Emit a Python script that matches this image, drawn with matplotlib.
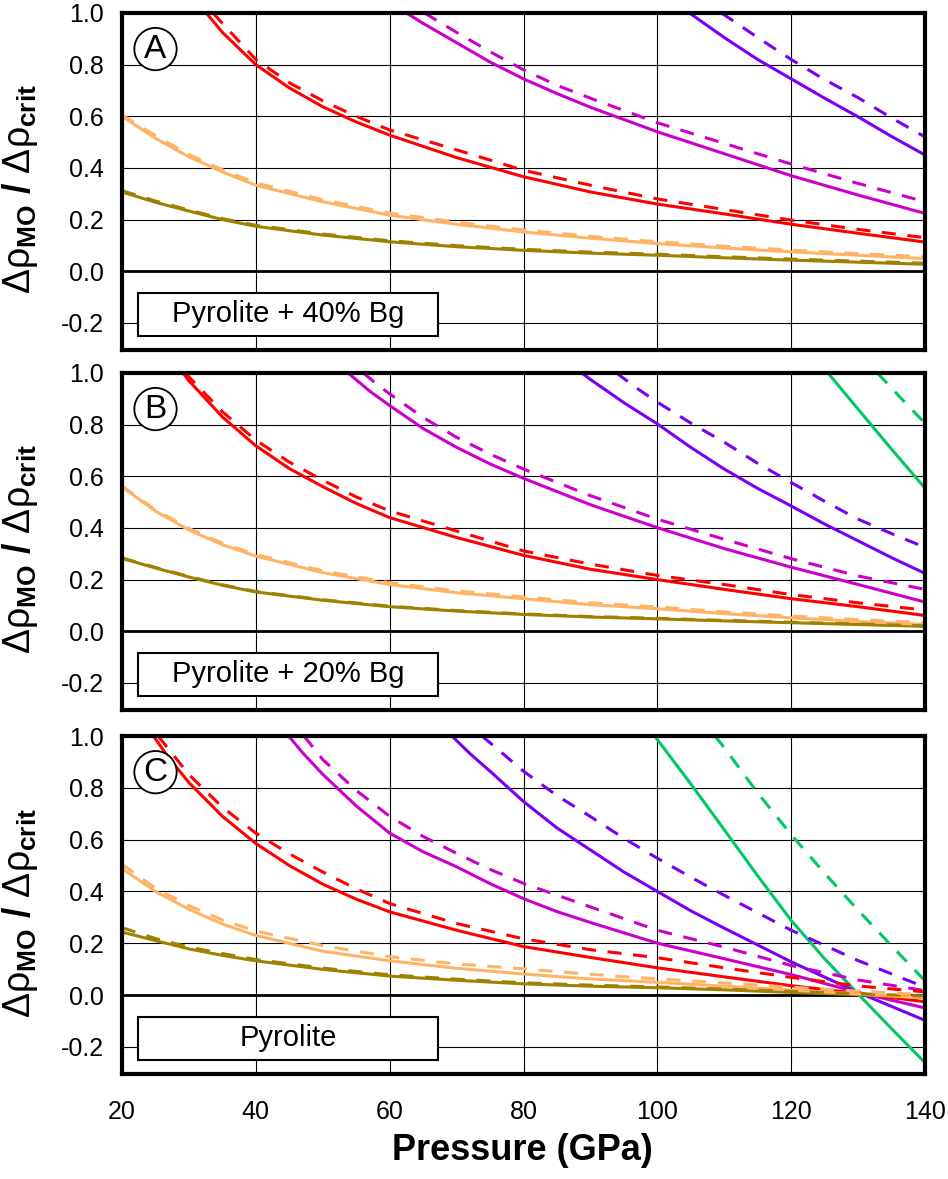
import matplotlib
matplotlib.use("Agg")
import matplotlib.pyplot as plt
from matplotlib.patches import Rectangle

plt.rcParams['font.family'] = ['Liberation Sans', 'DejaVu Sans']
plt.rcParams['mathtext.fontset'] = 'custom'
plt.rcParams['mathtext.rm'] = 'Liberation Sans'
plt.rcParams['mathtext.it'] = 'Liberation Sans'
plt.rcParams['mathtext.bf'] = 'Liberation Sans:bold'
plt.rcParams['axes.unicode_minus'] = False

# ---------------- data ----------------
P_full = [20, 25, 30, 35, 40, 50, 60, 70, 80, 90, 100, 110, 120, 130, 140]

# Panel A : Pyrolite + 40% Bg
A_red_s_P = [32.6, 35, 40, 45, 50, 55, 60, 70, 80, 90, 100, 110, 120, 130, 140]
A_red_s_v = [1.0, 0.925, 0.80, 0.71, 0.637, 0.578, 0.527, 0.44, 0.366, 0.307, 0.26, 0.222, 0.182, 0.147, 0.113]
A_red_d_P = [33.6, 35, 40, 45, 50, 55, 60, 70, 80, 90, 100, 110, 120, 130, 140]
A_red_d_v = [1.0, 0.96, 0.82, 0.73, 0.66, 0.60, 0.547, 0.47, 0.391, 0.333, 0.28, 0.239, 0.198, 0.162, 0.13]
A_mag_s_P = [62.5, 65, 70, 75, 80, 85, 90, 100, 110, 120, 130, 140]
A_mag_s_v = [1.0, 0.96, 0.885, 0.81, 0.745, 0.688, 0.635, 0.54, 0.455, 0.37, 0.295, 0.224]
A_mag_d_P = [65.2, 70, 75, 80, 85, 90, 100, 110, 120, 130, 140]
A_mag_d_v = [1.0, 0.925, 0.85, 0.78, 0.72, 0.67, 0.575, 0.495, 0.415, 0.34, 0.269]
A_pur_s_P = [104.8, 110, 115, 120, 125, 130, 135, 140]
A_pur_s_v = [1.0, 0.905, 0.82, 0.745, 0.67, 0.598, 0.522, 0.45]
A_pur_d_P = [109.6, 115, 120, 125, 130, 135, 140]
A_pur_d_v = [1.0, 0.905, 0.82, 0.742, 0.672, 0.594, 0.52]
A_org_s_v = [0.60, 0.515, 0.443, 0.385, 0.333, 0.269, 0.217, 0.182, 0.152, 0.128, 0.107, 0.09, 0.075, 0.062, 0.049]
A_org_d_v = [0.605, 0.525, 0.452, 0.393, 0.342, 0.277, 0.225, 0.19, 0.16, 0.135, 0.114, 0.097, 0.082, 0.068, 0.056]
A_olv_s_v = [0.307, 0.267, 0.233, 0.2, 0.174, 0.14, 0.114, 0.095, 0.081, 0.07, 0.062, 0.052, 0.043, 0.035, 0.027]
A_olv_d_v = [0.312, 0.272, 0.237, 0.204, 0.178, 0.144, 0.118, 0.099, 0.085, 0.074, 0.066, 0.056, 0.047, 0.039, 0.031]

# Panel B : Pyrolite + 20% Bg
B_red_s_P = [29.1, 30, 35, 40, 45, 50, 55, 60, 70, 80, 90, 100, 110, 120, 130, 140]
B_red_s_v = [1.0, 0.97, 0.83, 0.718, 0.63, 0.56, 0.495, 0.44, 0.363, 0.294, 0.24, 0.2, 0.162, 0.126, 0.095, 0.061]
B_red_d_P = [29.4, 30, 35, 40, 45, 50, 55, 60, 70, 80, 90, 100, 110, 120, 130, 140]
B_red_d_v = [1.0, 0.985, 0.85, 0.74, 0.655, 0.585, 0.52, 0.466, 0.388, 0.311, 0.26, 0.216, 0.181, 0.142, 0.11, 0.082]
B_mag_s_P = [53.8, 57, 60, 65, 70, 75, 80, 90, 100, 110, 120, 130, 140]
B_mag_s_v = [1.0, 0.93, 0.874, 0.785, 0.712, 0.648, 0.592, 0.49, 0.401, 0.32, 0.248, 0.181, 0.113]
B_mag_d_P = [56.1, 58, 60, 65, 70, 75, 80, 90, 100, 110, 120, 130, 140]
B_mag_d_v = [1.0, 0.958, 0.919, 0.828, 0.751, 0.686, 0.628, 0.525, 0.434, 0.356, 0.281, 0.214, 0.162]
B_pur_s_P = [88.7, 90, 95, 100, 105, 110, 115, 120, 125, 130, 135, 140]
B_pur_s_v = [1.0, 0.975, 0.885, 0.803, 0.712, 0.628, 0.553, 0.485, 0.415, 0.35, 0.285, 0.224]
B_pur_d_P = [93.9, 97, 100, 105, 110, 115, 120, 125, 130, 135, 140]
B_pur_d_v = [1.0, 0.94, 0.887, 0.806, 0.732, 0.65, 0.576, 0.503, 0.434, 0.378, 0.325]
B_grn_s_P = [125.5, 130, 135, 140]
B_grn_s_v = [1.0, 0.86, 0.705, 0.554]
B_grn_d_P = [132.9, 136.5, 140]
B_grn_d_v = [1.0, 0.90, 0.805]
B_org_s_v = [0.559, 0.465, 0.392, 0.335, 0.291, 0.227, 0.181, 0.149, 0.126, 0.103, 0.087, 0.068, 0.052, 0.038, 0.026]
B_org_d_v = [0.562, 0.47, 0.398, 0.341, 0.297, 0.234, 0.188, 0.156, 0.133, 0.11, 0.094, 0.075, 0.059, 0.045, 0.033]
B_olv_s_v = [0.282, 0.245, 0.21, 0.178, 0.152, 0.12, 0.095, 0.078, 0.065, 0.055, 0.048, 0.04, 0.033, 0.026, 0.019]
B_olv_d_v = [0.284, 0.247, 0.212, 0.18, 0.154, 0.122, 0.097, 0.08, 0.067, 0.057, 0.05, 0.042, 0.035, 0.028, 0.021]

# Panel C : Pyrolite
C_red_s_P = [24.7, 27, 30, 35, 40, 45, 50, 55, 60, 70, 80, 90, 100, 110, 120, 130, 140]
C_red_s_v = [1.0, 0.915, 0.82, 0.69, 0.585, 0.5, 0.428, 0.37, 0.321, 0.25, 0.187, 0.145, 0.105, 0.07, 0.036, 0.006, -0.026]
C_red_d_P = [25.4, 30, 35, 40, 45, 50, 55, 60, 70, 80, 90, 100, 110, 120, 130, 140]
C_red_d_v = [1.0, 0.851, 0.725, 0.625, 0.545, 0.475, 0.41, 0.353, 0.276, 0.217, 0.175, 0.144, 0.105, 0.068, 0.035, 0.012]
C_mag_s_P = [44.9, 47, 50, 55, 60, 65, 70, 75, 80, 85, 90, 100, 110, 120, 130, 140]
C_mag_s_v = [1.0, 0.935, 0.852, 0.73, 0.625, 0.553, 0.495, 0.43, 0.372, 0.322, 0.28, 0.2, 0.14, 0.079, 0.01, -0.05]
C_mag_d_P = [47.2, 50, 55, 60, 65, 70, 75, 80, 90, 100, 110, 120, 130, 140]
C_mag_d_v = [1.0, 0.909, 0.79, 0.69, 0.612, 0.547, 0.485, 0.431, 0.34, 0.25, 0.185, 0.114, 0.058, 0.017]
C_pur_s_P = [69.3, 72, 75, 80, 85, 90, 95, 100, 105, 110, 120, 130, 140]
C_pur_s_v = [1.0, 0.932, 0.864, 0.747, 0.645, 0.56, 0.475, 0.40, 0.325, 0.258, 0.128, 0.01, -0.098]
C_pur_d_P = [73.8, 77, 80, 85, 90, 95, 100, 105, 110, 120, 130, 140]
C_pur_d_v = [1.0, 0.93, 0.864, 0.77, 0.689, 0.605, 0.528, 0.455, 0.385, 0.25, 0.133, 0.03]
C_grn_s_P = [99.6, 105, 110, 115, 120, 125, 130, 135, 140]
C_grn_s_v = [1.0, 0.815, 0.638, 0.46, 0.288, 0.14, 0.004, -0.13, -0.261]
C_grn_d_P = [108.6, 110, 115, 120, 125, 130, 135, 140]
C_grn_d_v = [1.0, 0.955, 0.78, 0.619, 0.47, 0.327, 0.19, 0.055]
C_org_s_v = [0.488, 0.40, 0.331, 0.274, 0.23, 0.169, 0.132, 0.103, 0.081, 0.062, 0.049, 0.034, 0.019, 0.004, -0.012]
C_org_d_v = [0.505, 0.412, 0.345, 0.29, 0.247, 0.191, 0.148, 0.12, 0.101, 0.08, 0.062, 0.047, 0.03, 0.015, 0.001]
C_olv_s_v = [0.243, 0.21, 0.178, 0.153, 0.132, 0.099, 0.073, 0.057, 0.043, 0.034, 0.028, 0.02, 0.01, 0.001, -0.009]
C_olv_d_v = [0.26, 0.218, 0.185, 0.16, 0.137, 0.104, 0.078, 0.061, 0.047, 0.038, 0.031, 0.023, 0.014, 0.005, -0.004]

panel_letters = ["A", "B", "C"]
panel_names = ["Pyrolite + 40% Bg", "Pyrolite + 20% Bg", "Pyrolite"]
x_ticks = [20, 40, 60, 80, 100, 120, 140]
y_ticks = [-0.2, 0.0, 0.2, 0.4, 0.6, 0.8, 1.0]
y_ticklabels = ["-0.2", "0.0", "0.2", "0.4", "0.6", "0.8", "1.0"]

# ---------------- styles ----------------
COL = {
    "red": "#FF0000",
    "mag": "#CC00CC",
    "pur": "#7A00F5",
    "grn": "#00C864",
    "org": "#FFB366",
    "olv": "#A08000",
}
LW = 2.2
DASH = (4.6, 3.8)

panels = [
    [("pur", A_pur_s_P, A_pur_s_v, A_pur_d_P, A_pur_d_v),
     ("mag", A_mag_s_P, A_mag_s_v, A_mag_d_P, A_mag_d_v),
     ("red", A_red_s_P, A_red_s_v, A_red_d_P, A_red_d_v),
     ("olv", P_full, A_olv_s_v, P_full, A_olv_d_v),
     ("org", P_full, A_org_s_v, P_full, A_org_d_v)],
    [("grn", B_grn_s_P, B_grn_s_v, B_grn_d_P, B_grn_d_v),
     ("pur", B_pur_s_P, B_pur_s_v, B_pur_d_P, B_pur_d_v),
     ("mag", B_mag_s_P, B_mag_s_v, B_mag_d_P, B_mag_d_v),
     ("red", B_red_s_P, B_red_s_v, B_red_d_P, B_red_d_v),
     ("olv", P_full, B_olv_s_v, P_full, B_olv_d_v),
     ("org", P_full, B_org_s_v, P_full, B_org_d_v)],
    [("grn", C_grn_s_P, C_grn_s_v, C_grn_d_P, C_grn_d_v),
     ("pur", C_pur_s_P, C_pur_s_v, C_pur_d_P, C_pur_d_v),
     ("mag", C_mag_s_P, C_mag_s_v, C_mag_d_P, C_mag_d_v),
     ("red", C_red_s_P, C_red_s_v, C_red_d_P, C_red_d_v),
     ("olv", P_full, C_olv_s_v, P_full, C_olv_d_v),
     ("org", P_full, C_org_s_v, P_full, C_org_d_v)],
]

W, H = 948, 1179
fig = plt.figure(figsize=(W / 100, H / 100), dpi=100)

# pixel boxes (left, top, right, bottom)
boxes = [(122, 13, 925, 350), (122, 373, 925, 710), (122, 736, 925, 1074)]

ylabel = r'$\Delta\rho_{\mathbf{MO}}$ $\mathbf{/}$ $\Delta\rho_{\mathbf{crit}}$'

for i, (l, t, r, b) in enumerate(boxes):
    ax = fig.add_axes([l / W, 1 - b / H, (r - l) / W, (b - t) / H])
    ax.set_xlim(20, 140)
    ax.set_ylim(-0.305, 1.0)
    ax.set_xticks(x_ticks)
    ax.set_yticks(y_ticks)
    ax.set_yticklabels(y_ticklabels)
    ax.grid(True, color="black", lw=0.8, zorder=0)
    ax.set_axisbelow(True)
    ax.axhline(0.0, color="black", lw=2.0, zorder=1)
    ax.tick_params(axis="both", length=0)
    ax.tick_params(axis="y", labelsize=18, pad=13)
    ax.tick_params(axis="x", labelsize=18, pad=19)
    if i < 2:
        ax.tick_params(axis="x", labelbottom=False)
    for sp in ax.spines.values():
        sp.set_linewidth(3.0)
        sp.set_zorder(10)

    for key, ps, vs, pd_, vd in panels[i]:
        ax.plot(ps, vs, color=COL[key], lw=LW, solid_capstyle="butt", zorder=3)
        ax.plot(pd_, vd, color=COL[key], lw=LW, dashes=DASH,
                dash_capstyle="butt", zorder=4)

    # panel letter in circle
    ax.text(0.0417, 0.893, panel_letters[i], transform=ax.transAxes,
            fontsize=24, ha="center", va="center", zorder=12,
            bbox=dict(boxstyle="circle,pad=0.17", fc="white", ec="black", lw=1.3))

    # composition box
    ax.add_patch(Rectangle((0.0203, 0.042), 0.3736, 0.128, transform=ax.transAxes,
                           fc="white", ec="black", lw=1.5, zorder=11))
    ax.text(0.207, 0.106, panel_names[i], transform=ax.transAxes,
            fontsize=21, ha="center", va="center", zorder=12)

    cy = 1 - ((t + b) / 2 + 8) / H
    fig.text(0.021, cy, ylabel, rotation=90, ha="center", va="center", fontsize=27)

fig.text(0.551, 1 - 1150 / H, "Pressure (GPa)", fontsize=26, fontweight="bold",
         ha="center", va="center")

fig.savefig("out.png", dpi=100)
